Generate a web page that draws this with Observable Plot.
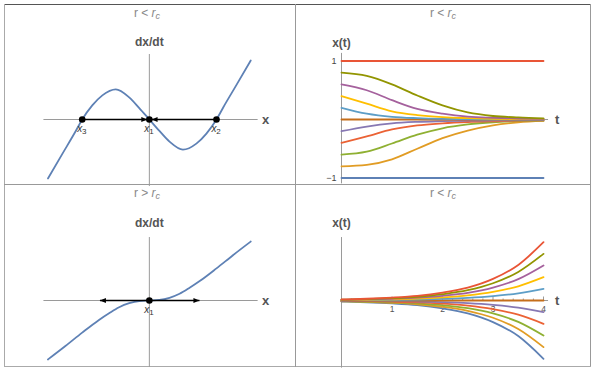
<!DOCTYPE html>
<html><head><meta charset="utf-8">
<script src="https://cdn.jsdelivr.net/npm/d3@7"></script>
<script src="https://cdn.jsdelivr.net/npm/@observablehq/plot@0.6"></script>
<style>
body{margin:0;background:#fff;}
#wrap{position:relative;width:596px;height:371px;font-family:"Liberation Sans",Arial,sans-serif;overflow:hidden;}
.ln{position:absolute;}
.title{position:absolute;font-size:12px;color:#888;transform:translateX(-50%);white-space:nowrap;line-height:12px;}
.title sub{font-size:9px;vertical-align:-2px;line-height:0;}
.panel{position:absolute;}
</style></head><body><div id="wrap"></div>
<script>
// ---------- data ----------
const flowTopX = [-1.51,-1.3,-1.1,-1,-0.85,-0.7,-0.5,-0.3,-0.15,0,0.15,0.3,0.5,0.7,0.85,1,1.1,1.3,1.51];
const flowTopY = [-0.88,-0.52,-0.18,0,0.21,0.36,0.45,0.33,0.17,0,-0.17,-0.33,-0.45,-0.36,-0.21,0,0.18,0.52,0.88];
const flowBotX = [-1.51,-1.25,-1,-0.75,-0.6,-0.45,-0.3,-0.15,0,0.15,0.3,0.45,0.6,0.75,1,1.25,1.51];
const flowBotY = [-0.88,-0.68,-0.48,-0.29,-0.19,-0.10,-0.04,-0.008,0,0.008,0.04,0.10,0.19,0.29,0.48,0.68,0.88];
const fixedTopX = [-1, 0, 1];
const fixedTopSub = ["3", "1", "2"];
const fixedBotX = [0];
const fixedBotSub = ["1"];
const arrowTopFrom = [-1, 1];
const arrowTopTo = [-0.03, 0.033];
const arrowBotTo = [-0.736, 0.746];
const titles = ["r < ", "r < ", "r > ", "r < "];
const tGrid = [0,0.5,1,1.5,2,2.5,3,3.5,4];
const seriesColors = ["#5E81B5","#E19C24","#8FB032","#EB6235","#8778B3","#C56E1A","#5D9EC7","#FFBF00","#A5619D","#929500","#E95536"];
const topRightSeries = [
  [-1,-1,-1,-1,-1,-1,-1,-1,-1],
  [-0.8,-0.775,-0.68,-0.50,-0.32,-0.19,-0.10,-0.05,-0.025],
  [-0.6,-0.55,-0.41,-0.26,-0.15,-0.085,-0.047,-0.028,-0.017],
  [-0.4,-0.29,-0.17,-0.10,-0.065,-0.043,-0.03,-0.02,-0.014],
  [-0.2,-0.12,-0.065,-0.04,-0.028,-0.02,-0.015,-0.012,-0.01],
  [0,0,0,0,0,0,0,0,0],
  [0.2,0.10,0.046,0.023,0.011,0.006,0.003,0.002,0.001],
  [0.4,0.27,0.14,0.075,0.04,0.023,0.012,0.007,0.005],
  [0.6,0.50,0.33,0.18,0.10,0.05,0.03,0.017,0.01],
  [0.8,0.745,0.60,0.41,0.24,0.12,0.06,0.035,0.02],
  [1,1,1,1,1,1,1,1,1]
];
const botRightSeries = [
  [-0.018,-0.03,-0.05,-0.08,-0.135,-0.22,-0.37,-0.61,-1.0],
  [-0.014,-0.024,-0.04,-0.064,-0.108,-0.176,-0.296,-0.49,-0.8],
  [-0.011,-0.018,-0.03,-0.048,-0.081,-0.132,-0.222,-0.366,-0.6],
  [-0.007,-0.012,-0.02,-0.032,-0.054,-0.088,-0.148,-0.244,-0.4],
  [-0.004,-0.006,-0.01,-0.016,-0.027,-0.044,-0.074,-0.122,-0.2],
  [0,0,0,0,0,0,0,0,0],
  [0.004,0.006,0.01,0.016,0.027,0.044,0.074,0.122,0.2],
  [0.007,0.012,0.02,0.032,0.054,0.088,0.148,0.244,0.4],
  [0.011,0.018,0.03,0.048,0.081,0.132,0.222,0.366,0.6],
  [0.014,0.024,0.04,0.064,0.108,0.176,0.296,0.49,0.8],
  [0.018,0.03,0.05,0.08,0.135,0.22,0.37,0.61,1.0]
];
const topRightTicks = [-1, 1];
const topRightTickLabels = ["\u22121", "1"];
const botRightTicks = [1, 2, 3, 4];
const botRightMinor = [0.2,0.4,0.6,0.8,1.2,1.4,1.6,1.8,2.2,2.4,2.6,2.8,3.2,3.4,3.6,3.8];

// ---------- helpers ----------
const FONT = "Liberation Sans, Arial, sans-serif";
const AXIS = "#9a9a9a";
const LAB = "#555";
const CURVE = "#5E81B5";
function tri(dir) {
  return {draw(ctx, size) {
    const r = Math.sqrt(size / Math.PI);
    const L = 2.0 * r, W = 0.85 * r;
    ctx.moveTo(0, 0);
    ctx.lineTo(-dir * L, -W);
    ctx.lineTo(-dir * L, W);
    ctx.closePath();
  }};
}
const wrap = document.getElementById("wrap");
function line(l, t, w, h, c) {
  const d = document.createElement("div");
  d.className = "ln";
  Object.assign(d.style, {left: l + "px", top: t + "px", width: w + "px", height: h + "px", background: c});
  wrap.appendChild(d);
}
function place(node, l, t) {
  node.classList.add("panel");
  node.style.left = l + "px"; node.style.top = t + "px";
  wrap.appendChild(node);
}
const baseStyle = {fontFamily: FONT, background: "transparent", overflow: "visible"};

function flowPanel(xs, ys, fx, fsub, arrows, zeroPx, h) {
  const pts = xs.map((x, i) => ({x, y: ys[i]}));
  const fixed = fx.map((x, i) => ({x, sub: fsub[i]}));
  return Plot.plot({
    width: 290, height: h, style: baseStyle,
    x: {domain: [-1, 1], range: [76.7, 211], axis: null},
    y: {domain: [-1, 1], range: [zeroPx + 67, zeroPx - 67], axis: null},
    marks: [
      Plot.ruleY([0], {x1: -1.57, x2: 1.62, stroke: AXIS, strokeWidth: 1}),
      Plot.ruleX([0], {y1: arrows.yBottom, y2: arrows.yTop, stroke: AXIS, strokeWidth: 1}),
      Plot.line(pts, {x: "x", y: "y", stroke: CURVE, strokeWidth: 1.8, curve: "monotone-x"}),
      Plot.link(arrows.segs, {x1: "a", x2: "b", y1: 0, y2: 0, stroke: "black", strokeWidth: 1.3}),
      Plot.dot(arrows.right, {x: d => d, y: 0, r: 3, symbol: tri(1), fill: "black", stroke: null}),
      Plot.dot(arrows.left, {x: d => d, y: 0, r: 3, symbol: tri(-1), fill: "black", stroke: null}),
      Plot.dot(fixed, {x: "x", y: 0, r: 3.3, fill: "black"}),
      Plot.text(fixed, {x: "x", y: 0, text: () => "x", dx: -2.5, dy: 9, fontSize: 10, fontStyle: "italic", fill: "#333"}),
      Plot.text(fixed, {x: "x", y: 0, text: "sub", dx: 2, dy: 12, fontSize: 8, fill: "#333"}),
      Plot.text(["dx/dt"], {x: 0, y: 1.16, text: d => d, fontSize: 12, fontWeight: "bold", fill: LAB}),
      Plot.text(["x"], {x: 1.73, y: 0, text: d => d, fontSize: 13, fontWeight: "bold", fill: LAB})
    ]
  });
}

function trajPanel(series, zeroPx, unit, h, opts) {
  const marks = [
    Plot.ruleY([0], {x1: 0, x2: 4.1, stroke: AXIS, strokeWidth: 1}),
    Plot.ruleX([0], {y1: opts.yBottom, y2: opts.yTop, stroke: AXIS, strokeWidth: 1})
  ];
  if (opts.yTicks) {
    marks.push(Plot.link(opts.yTicks, {x1: 0, x2: 0.07, y1: d => d, y2: d => d, stroke: AXIS}));
    marks.push(Plot.text(opts.yTicks, {x: 0, y: d => d, text: (d, i) => opts.yTickLabels[i], dx: -5, textAnchor: "end", fontSize: 9, fill: "#444"}));
  }
  if (opts.xTicks) {
    marks.push(Plot.link(opts.xMinor, {x1: d => d, x2: d => d, y1: 0, y2: 2 / unit, stroke: AXIS}));
    marks.push(Plot.link(opts.xTicks, {x1: d => d, x2: d => d, y1: 0, y2: 4 / unit, stroke: AXIS}));
    marks.push(Plot.text(opts.xTicks, {x: d => d, y: 0, text: d => String(d), dy: 9, fontSize: 8.5, fill: "#555"}));
  }
  series.forEach((vals, s) => {
    marks.push(Plot.line(tGrid.map((t, j) => ({t, v: vals[j]})), {x: "t", y: "v", stroke: seriesColors[s], strokeWidth: 1.8, curve: "monotone-x"}));
  });
  marks.push(Plot.text(["x(t)"], {x: 0, y: opts.labelY, text: d => d, fontSize: 12, fontWeight: "bold", fill: LAB}));
  marks.push(Plot.text(["t"], {x: 4.27, y: 0, text: d => d, fontSize: 13, fontWeight: "bold", fill: LAB}));
  return Plot.plot({
    width: 293, height: h, style: baseStyle,
    x: {domain: [0, 4], range: [44, 246], axis: null},
    y: {domain: [-1, 1], range: [zeroPx + unit, zeroPx - unit], axis: null},
    marks
  });
}

// frame
line(4, 4, 587, 1, "#555");
line(4, 4, 1, 363, "#aaa");
line(590, 4, 1, 363, "#999");
line(4, 366, 587, 1, "#aaa");
line(4, 184, 587, 1, "#999");
line(295, 4, 1, 363, "#999");

place(flowPanel(flowTopX, flowTopY, fixedTopX, fixedTopSub, {
  segs: arrowTopFrom.map((a, i) => ({a, b: arrowTopTo[i]})),
  right: [arrowTopTo[0]], left: [arrowTopTo[1]], yBottom: -1.0, yTop: 0.97
}, 114, 179), 5, 5);

place(flowPanel(flowBotX, flowBotY, fixedBotX, fixedBotSub, {
  segs: [{a: arrowBotTo[0], b: arrowBotTo[1]}],
  right: [arrowBotTo[1]], left: [arrowBotTo[0]], yBottom: -1.0, yTop: 0.94
}, 115, 181), 5, 185);

place(trajPanel(topRightSeries, 114, 58.5, 179, {
  yBottom: -1.1, yTop: 1.13, yTicks: topRightTicks, yTickLabels: topRightTickLabels, labelY: 1.31
}), 297, 5);

place(trajPanel(botRightSeries, 115, 58.3, 181, {
  yBottom: -1.16, yTop: 1.08, xTicks: botRightTicks, xMinor: botRightMinor, labelY: 1.33
}), 297, 185);

// titles
const titlePos = [[147, 7], [443, 7], [147, 187], [443, 187]];
titles.forEach((t, i) => {
  const d = document.createElement("div");
  d.className = "title";
  d.innerHTML = t.replace("<", "&lt;").replace(">", "&gt;") + "<i>r</i><sub><i>c</i></sub>";
  d.style.left = titlePos[i][0] + "px"; d.style.top = titlePos[i][1] + "px";
  wrap.appendChild(d);
});
</script>
</body></html>
